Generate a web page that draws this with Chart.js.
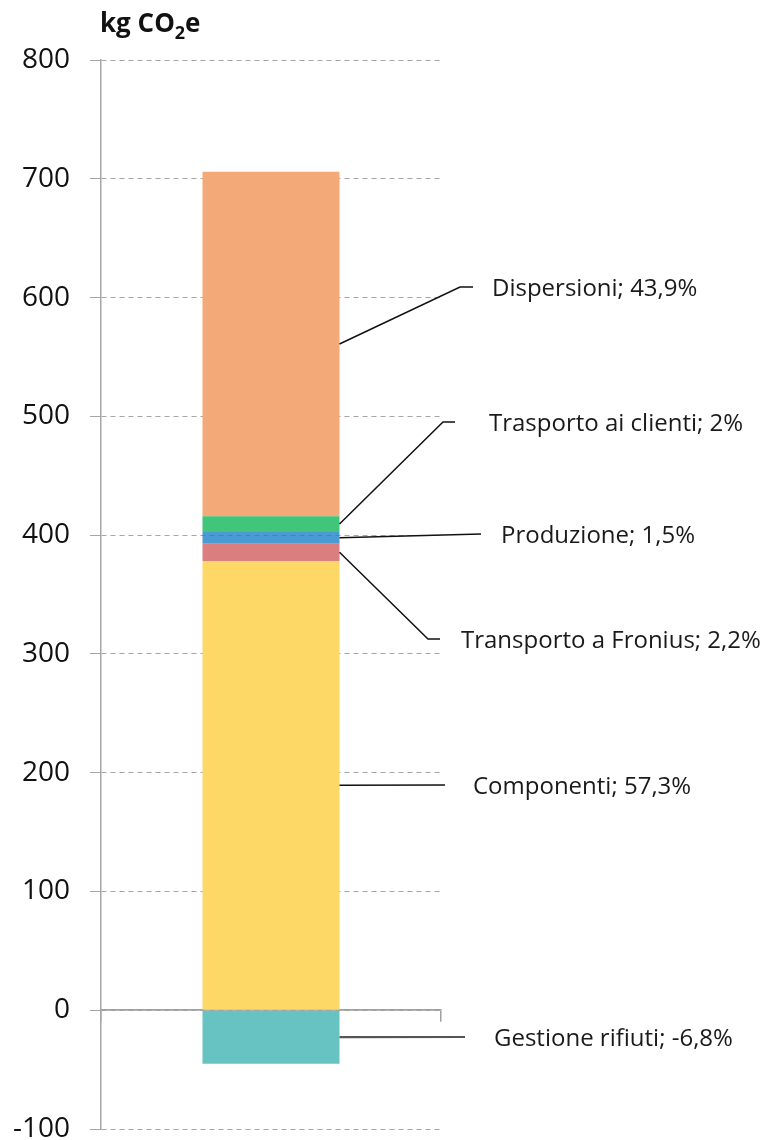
<!DOCTYPE html>
<html><head><meta charset="utf-8">
<script src="https://cdn.jsdelivr.net/npm/chart.js@4.4.1/dist/chart.umd.min.js"></script>
<style>html,body{margin:0;padding:0;background:#fff}#wrap{width:764px;height:1140px}</style>
</head><body><div id="wrap"><canvas id="c" width="764" height="1140"></canvas></div>
<script>
// ---- data ----
const categories = ['Impronta di carbonio'];
const seriesNames = ['Componenti', 'Transporto a Fronius', 'Produzione', 'Trasporto ai clienti', 'Dispersioni', 'Gestione rifiuti'];
const componenti = [378.2];
const trasportoFronius = [14.6];
const produzione = [9.9];
const trasportoClienti = [13.2];
const dispersioni = [290.0];
const gestioneRifiuti = [-45.0];
const percentLabels = ['57,3%', '2,2%', '1,5%', '2%', '43,9%', '-6,8%'];
const yMin = -100, yMax = 800, yStep = 100;
const yTitle = ['kg CO', '2', 'e'];

// ---- styles / layout ----
const colors = ['#FDD867', '#DA7E7F', 'rgba(29,129,201,0.8)', '#40C57A', '#F4A978', '#67C3C1'];
// leader-line elbow (x,y), horizontal end x, text x  (pixels)
const labelLayout = [
  {ex: 445, ey: 785, hx: 445, tx: 473},
  {ex: 428, ey: 639, hx: 440, tx: 461},
  {ex: 481, ey: 534, hx: 481, tx: 501},
  {ex: 443, ey: 422, hx: 455, tx: 489},
  {ex: 460, ey: 287, hx: 473, tx: 492},
  {ex: 465, ey: 1037, hx: 465, tx: 494}
];
const seriesValues = [componenti, trasportoFronius, produzione, trasportoClienti, dispersioni, gestioneRifiuti];

const labelPlugin = {
  id: 'leaderLabels',
  afterDatasetsDraw(chart) {
    const ctx = chart.ctx;
    ctx.save();
    chart.data.datasets.forEach((ds, i) => {
      const bar = chart.getDatasetMeta(i).data[0];
      const x0 = bar.x + bar.width / 2;
      const y0 = (bar.y + bar.base) / 2;
      const L = labelLayout[i];
      ctx.beginPath();
      ctx.strokeStyle = i === 5 ? '#555' : '#111';
      ctx.lineWidth = i === 5 ? 2.2 : 1.5;
      ctx.moveTo(x0, y0);
      ctx.lineTo(L.ex, L.ey);
      ctx.lineTo(L.hx, L.ey);
      ctx.stroke();
      ctx.fillStyle = '#1a1a1a';
      ctx.font = '24px "Open Sans"';
      ctx.textBaseline = 'middle';
      ctx.textAlign = 'left';
      ctx.fillText(seriesNames[i] + '; ' + percentLabels[i], L.tx, L.ey + 2);
    });
    ctx.restore();
  }
};

const titlePlugin = {
  id: 'yTitle',
  afterDraw(chart) {
    const ctx = chart.ctx;
    ctx.save();
    ctx.fillStyle = '#111';
    ctx.textBaseline = 'alphabetic';
    ctx.textAlign = 'left';
    let x = 100;
    ctx.font = 'bold 26px "Open Sans"';
    ctx.fillText(yTitle[0], x, 32);
    x += ctx.measureText(yTitle[0]).width;
    ctx.font = 'bold 18px "Open Sans"';
    ctx.fillText(yTitle[1], x, 39);
    x += ctx.measureText(yTitle[1]).width;
    ctx.font = 'bold 26px "Open Sans"';
    ctx.fillText(yTitle[2], x, 32);
    ctx.restore();
  }
};

new Chart(document.getElementById('c'), {
  type: 'bar',
  data: {
    labels: categories,
    datasets: seriesNames.map((n, i) => ({
      label: n,
      data: seriesValues[i],
      backgroundColor: colors[i],
      borderWidth: 0,
      barPercentage: 0.403,
      categoryPercentage: 1.0
    }))
  },
  options: {
    responsive: false,
    animation: false,
    devicePixelRatio: 1,
    layout: {padding: {top: 60, bottom: 11, left: 0, right: 323}},
    plugins: {legend: {display: false}, tooltip: {enabled: false}, title: {display: false}},
    scales: {
      x: {
        type: 'category',
        stacked: true,
        position: {y: 0},
        ticks: {display: false},
        grid: {drawOnChartArea: false, drawTicks: true, tickLength: 11, color: '#a0a0a0', offset: true, lineWidth: 1.5},
        border: {color: '#a0a0a0', width: 1.8}
      },
      y: {
        stacked: true,
        min: yMin, max: yMax,
        ticks: {stepSize: yStep, padding: 20, color: '#111', font: {family: 'Open Sans', size: 28}},
        grid: {color: '#a6a6a6', tickLength: 11, lineWidth: 1},
        border: {color: '#a6a6a6', dash: [5, 4], width: 1.5},
        afterFit(s) { s.width = 101; s.paddingTop = 0; s.paddingBottom = 0; }
      }
    }
  },
  plugins: [labelPlugin, titlePlugin]
});
</script>
</body></html>
